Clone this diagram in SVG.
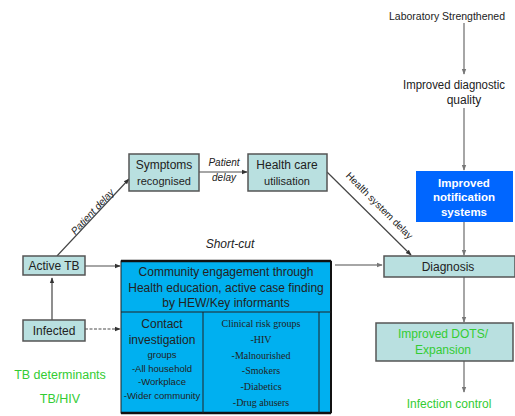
<svg xmlns="http://www.w3.org/2000/svg" width="515" height="416" viewBox="0 0 515 416">
<defs>
<marker id="ah" viewBox="0 0 8 8" refX="7" refY="4" markerWidth="6" markerHeight="6" orient="auto" markerUnits="userSpaceOnUse">
<path d="M0,1 L8,4 L0,7 z" fill="#333"/>
</marker>
<marker id="ahg" viewBox="0 0 8 8" refX="7" refY="4" markerWidth="6" markerHeight="6" orient="auto" markerUnits="userSpaceOnUse">
<path d="M0,1 L8,4 L0,7 z" fill="#777"/>
</marker>
</defs>
<style>
text{font-family:"Liberation Sans",Arial,sans-serif;fill:#222}
.lb{fill:#b9e0e0;stroke:#555;stroke-width:1.5}
.t12{font-size:12px}
.mid{text-anchor:middle}
.green{fill:#33cc33}
.serif{font-family:"Liberation Serif","Times New Roman",serif;font-size:10px}
.sm{font-size:9.5px}
.c{fill:none;stroke:#444;stroke-width:1.2}
.cg{fill:none;stroke:#888;stroke-width:1.5}
</style>
<rect width="515" height="416" fill="#fff"/>

<g id="connectors">
<line class="c" x1="52" y1="320" x2="52" y2="278" marker-end="url(#ah)"/>
<line class="c" x1="57" y1="256" x2="129" y2="179" marker-end="url(#ah)"/>
<line class="cg" x1="199" y1="172" x2="247" y2="172" marker-end="url(#ah)"/>
<line class="c" x1="327" y1="172" x2="411" y2="255" marker-end="url(#ah)"/>
<line class="cg" x1="85" y1="266" x2="120" y2="266" marker-end="url(#ah)"/>
<line class="cg" x1="85" y1="329" x2="120" y2="329" stroke-dasharray="3,1.5" marker-end="url(#ah)"/>
<line class="cg" x1="335" y1="265" x2="382" y2="265" marker-end="url(#ahg)"/>
<line class="cg" x1="464" y1="23" x2="464" y2="74" stroke="#666" marker-end="url(#ahg)"/>
<line class="cg" x1="464" y1="108" x2="464" y2="170" stroke="#666" marker-end="url(#ahg)"/>
<line class="cg" x1="464" y1="222" x2="464" y2="255" stroke="#666" marker-end="url(#ahg)"/>
<line class="cg" x1="464" y1="277" x2="464" y2="322" stroke="#666" marker-end="url(#ahg)"/>
<line class="cg" x1="464" y1="361" x2="464" y2="392" stroke="#666" marker-end="url(#ahg)"/>
<text x="0" y="0" font-size="10" font-style="italic" transform="translate(95,214) rotate(-47)" class="mid">Patient delay</text>
<text x="0" y="0" font-size="10" font-style="italic" class="mid" transform="translate(224,166)">Patient</text>
<text x="0" y="0" font-size="10" font-style="italic" class="mid" transform="translate(224,181)">delay</text>
<text x="0" y="0" font-size="10" transform="translate(377,208) rotate(45)" class="mid">Health system  delay</text>
<text x="230" y="248" font-size="12" font-style="italic" class="mid">Short-cut</text>
</g>

<g id="active-tb">
<rect class="lb" x="23" y="256" width="62" height="19"/>
<text x="54" y="270" class="t12 mid">Active TB</text>
</g>
<g id="infected">
<rect class="lb" x="23" y="320" width="62" height="21"/>
<text x="54" y="335" class="t12 mid">Infected</text>
</g>
<g id="symptoms">
<rect class="lb" x="129" y="154" width="70" height="37"/>
<text x="164" y="169" class="t12 mid">Symptoms</text>
<text x="164" y="185" class="mid" font-size="11">recognised</text>
</g>
<g id="health-care">
<rect class="lb" x="248" y="154" width="79" height="37"/>
<text x="287" y="169" class="t12 mid">Health care</text>
<text x="287" y="185" class="mid" font-size="11">utilisation</text>
</g>
<g id="community">
<rect x="121" y="261" width="210" height="152" fill="#00b0f0" stroke="#222" stroke-width="1"/>
<line x1="121" y1="261" x2="331" y2="261" stroke="#111" stroke-width="2.5"/>
<line x1="331" y1="261" x2="331" y2="413" stroke="#111" stroke-width="2"/>
<line x1="121" y1="413" x2="331" y2="413" stroke="#111" stroke-width="2.5"/>
<line x1="121" y1="312" x2="331" y2="312" stroke="#222" stroke-width="1"/>
<line x1="203" y1="312" x2="203" y2="413" stroke="#222" stroke-width="1"/>
<line x1="319" y1="312" x2="319" y2="413" stroke="#222" stroke-width="1"/>
<text x="226" y="276" class="t12 mid">Community engagement through</text>
<text x="226" y="292" class="t12 mid">Health education, active case finding</text>
<text x="226" y="307" class="t12 mid">by HEW/Key informants</text>
<text x="162" y="328" class="t12 mid">Contact</text>
<text x="162" y="344" class="t12 mid">investigation</text>
<text x="162" y="358" class="sm mid">groups</text>
<text x="162" y="372" class="sm mid">-All household</text>
<text x="162" y="385" class="sm mid">-Workplace</text>
<text x="162" y="399" class="sm mid">-Wider community</text>
<text x="261" y="327" class="serif mid">Clinical risk groups</text>
<text x="261" y="343" class="serif mid">-HIV</text>
<text x="261" y="359" class="serif mid">-Malnourished</text>
<text x="261" y="374" class="serif mid">-Smokers</text>
<text x="261" y="390" class="serif mid">-Diabetics</text>
<text x="261" y="406" class="serif mid">-Drug abusers</text>
</g>
<g id="laboratory">
<text x="389" y="20" font-size="11.5" textLength="116" lengthAdjust="spacingAndGlyphs">Laboratory Strengthened</text>
</g>
<g id="diagnostic-quality">
<text x="454" y="89" class="t12 mid" textLength="102" lengthAdjust="spacingAndGlyphs">Improved diagnostic</text>
<text x="464" y="104" class="t12 mid">quality</text>
</g>
<g id="notification">
<rect x="416" y="171" width="97" height="51" fill="#0066ff"/>
<text x="464" y="187" font-size="11.5" font-weight="bold" class="mid" style="fill:#fff">Improved</text>
<text x="464" y="201" font-size="11.5" font-weight="bold" class="mid" style="fill:#fff">notification</text>
<text x="464" y="216" font-size="11.5" font-weight="bold" class="mid" style="fill:#fff">systems</text>
</g>
<g id="diagnosis">
<rect class="lb" x="384" y="256" width="131" height="21"/>
<text x="448" y="271" class="t12 mid">Diagnosis</text>
</g>
<g id="dots">
<rect class="lb" x="376" y="323" width="137" height="38"/>
<text x="443" y="338" class="t12 mid green">Improved DOTS/</text>
<text x="443" y="354" class="t12 mid green">Expansion</text>
</g>
<g id="infection-control">
<text x="449" y="408" class="t12 mid green">Infection control</text>
</g>
<g id="tb-determinants">
<text x="60" y="379" font-size="12.5" class="mid green">TB determinants</text>
</g>
<g id="tb-hiv">
<text x="60" y="403" font-size="12.5" class="mid green">TB/HIV</text>
</g>
</svg>
